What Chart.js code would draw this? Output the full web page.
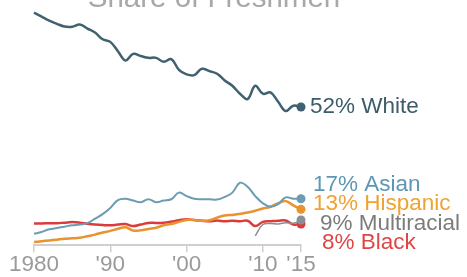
<!DOCTYPE html>
<html>
<head>
<meta charset="utf-8">
<script src="https://cdn.jsdelivr.net/npm/chart.js@4"></script>
<style>
  html, body { margin: 0; padding: 0; background: #fff; }
  #wrap { position: relative; width: 467px; height: 277px; }
</style>
</head>
<body>
<div id="wrap"><canvas id="chart" width="467" height="277"></canvas></div>
<script>
// Share of freshmen by race/ethnicity, 1980-2015 (percent)
const years = [1980, 1981, 1982, 1983, 1984, 1985, 1986, 1987, 1988, 1989,
  1990, 1991, 1992, 1993, 1994, 1995, 1996, 1997, 1998, 1999,
  2000, 2001, 2002, 2003, 2004, 2005, 2006, 2007, 2008, 2009,
  2010, 2011, 2012, 2013, 2014, 2015];

const white = [87.5, 86, 84.5, 83.3, 82.3, 82.2, 83, 81.5, 80, 77.5,
  76.5, 73, 69.5, 72, 71.2, 70.5, 70.5, 69, 70, 66,
  64.3, 64, 66.4, 65.5, 64.5, 62, 60, 57, 55, 60,
  57, 57.5, 54, 50.5, 52.5, 52];

const asian = [4.3, 5, 6, 6.5, 7, 7.5, 7.8, 8.3, 10, 11.7,
  14, 17, 17.5, 16.8, 16.2, 17.3, 16.2, 16.8, 17.3, 19.8,
  18.5, 17.5, 17.3, 17.3, 17.2, 18.2, 19.8, 23.5, 22, 18.5,
  15.8, 14.5, 15.5, 18, 17.5, 17.5];

const hispanic = [1.2, 1.5, 1.8, 2.1, 2.4, 2.6, 2.8, 3.4, 4, 4.8,
  5.4, 6.2, 6.8, 5.5, 5.6, 6.1, 6.6, 7.5, 8, 8.8,
  9.5, 9.5, 9.2, 9.4, 10.4, 11.2, 11.4, 11.8, 12.3, 13,
  13.8, 14.5, 15.8, 16.6, 15, 13.5];

const black = [8.2, 8.2, 8.3, 8.3, 8.5, 8.7, 8.5, 8.1, 7.8, 7.6,
  7.5, 7.8, 8, 7.2, 7.8, 8.4, 8.4, 8.5, 8.9, 9.4,
  9.8, 9.5, 9.2, 9.0, 9.3, 9.0, 9.2, 9.0, 9.2, 7.2,
  8.8, 9.0, 9.2, 9.3, 7.8, 8];

const multiYears = [2009, 2010, 2011, 2012, 2013, 2014, 2015];
const multiracial = [3.5, 7.8, 8.2, 8, 8.5, 8.3, 9.5];

const tickYears = [1980, 1990, 2000, 2010, 2015];
const tickLabels = ['1980', "'90", "'00", "'10", "'15"];

const seriesNames = ['52% White', '17% Asian', '13% Hispanic', '9% Multiracial', '8% Black'];

const toPoints = (xs, ys) => xs.map((x, i) => ({ x, y: ys[i] }));

function line(label, xs, ys, color, width) {
  return {
    label,
    data: toPoints(xs, ys),
    borderColor: color,
    backgroundColor: color,
    borderWidth: width,
    tension: 0.4,
    fill: false,
    // only the last point gets a dot
    pointRadius: ctx => (ctx.dataIndex === ys.length - 1 ? 4.5 : 0),
    pointBorderWidth: 0,
    clip: false
  };
}

// end-of-line labels, drawn next to the last point of each line
const endLabels = {
  id: 'endLabels',
  afterDatasetsDraw(chart, args, opts) {
    const c = chart.ctx;
    c.save();
    c.font = opts.font;
    c.textBaseline = 'middle';
    c.textAlign = 'left';
    const asianMeta = chart.getDatasetMeta(1);
    const groupTop = asianMeta.data[asianMeta.data.length - 1].y - 14;
    chart.data.datasets.forEach((ds, i) => {
      const meta = chart.getDatasetMeta(i);
      const pt = meta.data[meta.data.length - 1];
      const y = i === 0 ? pt.y : groupTop + (i - 1) * opts.spacing;
      c.fillStyle = opts.colors[i];
      c.fillText(ds.label, pt.x + opts.dx[i], y);
    });
    // title, mostly cut off at the top of the frame
    c.font = opts.titleFont;
    c.fillStyle = '#a8a8a8';
    c.textAlign = 'center';
    c.textBaseline = 'alphabetic';
    c.fillText('Share of Freshmen', 214, 7);
    c.restore();
  }
};

new Chart(document.getElementById('chart'), {
  type: 'line',
  data: {
    datasets: [
      line(seriesNames[0], years, white, '#3f6170', 2.5),
      line(seriesNames[1], years, asian, '#6c9cb2', 2),
      line(seriesNames[2], years, hispanic, '#ea922c', 2.5),
      line(seriesNames[3], multiYears, multiracial, '#8a8f94', 1.5),
      line(seriesNames[4], years, black, '#dc3b3b', 2.5)
    ]
  },
  options: {
    responsive: false,
    animation: false,
    layout: { padding: { left: 34, right: 166, top: 6, bottom: 0 } },
    plugins: {
      legend: { display: false },
      tooltip: { enabled: false },
      endLabels: {
        font: '22.5px "Liberation Sans", Arial, sans-serif',
        titleFont: '29.5px "Liberation Sans", Arial, sans-serif',
        colors: ['#3d5b68', '#5e97b4', '#f0a232', '#7c7c7c', '#e04545'],
        dx: [9, 12, 12, 19, 21],
        spacing: 19.3
      }
    },
    scales: {
      x: {
        type: 'linear',
        min: 1980,
        max: 2015,
        afterBuildTicks: scale => {
          scale.ticks = tickYears.map(v => ({ value: v }));
        },
        grid: {
          drawOnChartArea: false,
          drawTicks: true,
          tickLength: 7,
          color: '#cfcfcf',
          lineWidth: 1.5
        },
        border: { display: true, color: '#cfcfcf', width: 2 },
        ticks: {
          autoSkip: false,
          maxRotation: 0,
          padding: 0,
          color: '#9a9a9a',
          font: { family: '"Liberation Sans", Arial, sans-serif', size: 22.5, lineHeight: 1.1 },
          callback: (v, i) => tickLabels[i]
        }
      },
      y: {
        display: false,
        min: 0,
        max: 90
      }
    }
  },
  plugins: [endLabels]
});
</script>
</body>
</html>
